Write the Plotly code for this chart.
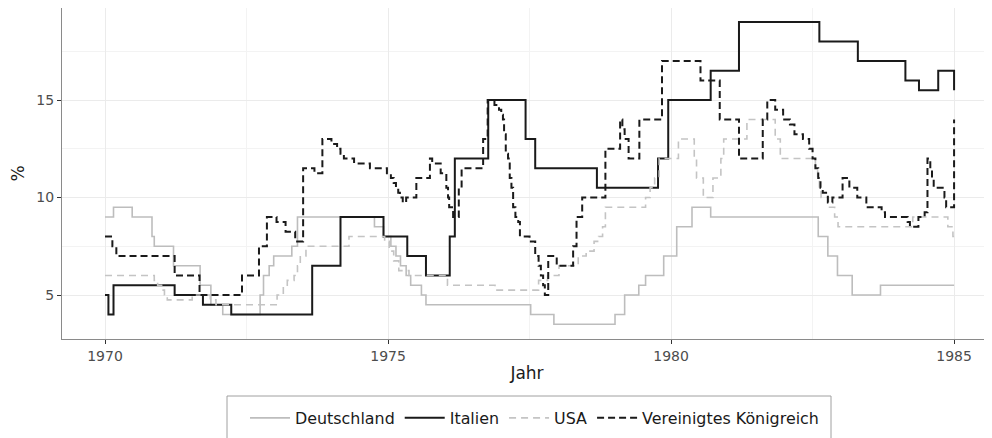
import plotly.graph_objects as go

# ---------------- data ----------------
de_years = [1970.0, 1970.15, 1970.48, 1970.83, 1970.87, 1971.21, 1971.68, 1971.87, 1972.08,
            1972.74, 1972.8, 1972.9, 1972.98, 1973.3, 1973.4, 1974.76, 1974.92, 1975.05,
            1975.14, 1975.22, 1975.32, 1975.4, 1975.59, 1975.67, 1977.52, 1977.93, 1979.01,
            1979.18, 1979.43, 1979.55, 1979.87, 1980.1, 1980.37, 1980.7, 1982.6, 1982.77,
            1982.94, 1983.2, 1983.7, 1985.0]
de_values = [9.0, 9.5, 9.0, 8.0, 7.5, 6.5, 5.5, 4.5, 4.0,
             5.0, 6.0, 6.5, 7.0, 7.5, 9.0, 8.5, 8.0, 7.5,
             7.0, 6.5, 6.0, 5.5, 5.0, 4.5, 4.0, 3.5, 4.0,
             5.0, 5.5, 6.0, 7.0, 8.5, 9.5, 9.0, 8.0, 7.0,
             6.0, 5.0, 5.5, 5.5]

it_years = [1970.0, 1970.06, 1970.15, 1971.23, 1971.73, 1972.23, 1973.66, 1974.16, 1974.92,
            1975.34, 1975.67, 1976.09, 1976.18, 1976.77, 1977.43, 1977.6, 1978.69, 1979.77,
            1979.95, 1980.7, 1981.2, 1982.62, 1983.3, 1984.14, 1984.38, 1984.72, 1985.0]
it_values = [5.0, 4.0, 5.5, 5.0, 4.5, 4.0, 6.5, 9.0, 8.0,
             7.0, 6.0, 8.0, 12.0, 15.0, 13.0, 11.5, 10.5, 12.0,
             15.0, 16.5, 19.0, 18.0, 17.0, 16.0, 15.5, 16.5, 15.5]

us_years = [1970.0, 1970.87, 1970.93, 1971.0, 1971.05, 1971.1, 1971.54, 1971.86, 1971.96,
            1973.04, 1973.15, 1973.22, 1973.34, 1973.4, 1973.45, 1973.55, 1974.31, 1974.94,
            1975.02, 1975.1, 1975.19, 1975.37, 1976.05, 1976.89, 1977.66, 1977.82, 1978.02,
            1978.36, 1978.5, 1978.64, 1978.72, 1978.79, 1978.84, 1979.55, 1979.63, 1979.71,
            1979.79, 1980.13, 1980.41, 1980.45, 1980.57, 1980.74, 1980.88, 1980.93, 1981.34,
            1981.84, 1981.93, 1982.55, 1982.59, 1982.62, 1982.65, 1982.78, 1982.89, 1982.95,
            1984.27, 1984.89, 1984.98, 1985.0]
us_values = [6.0, 5.75, 5.5, 5.25, 5.0, 4.75, 5.0, 4.75, 4.5,
             5.0, 5.5, 5.75, 6.0, 6.5, 7.0, 7.5, 8.0, 7.75,
             7.25, 6.75, 6.25, 6.0, 5.5, 5.25, 5.75, 6.0, 6.5,
             7.0, 7.25, 7.75, 8.0, 8.5, 9.5, 10.0, 10.5, 11.0,
             12.0, 13.0, 12.0, 11.0, 10.0, 11.0, 12.0, 13.0, 14.0,
             13.0, 12.0, 11.5, 11.0, 10.5, 10.0, 9.5, 9.0, 8.5,
             9.0, 8.5, 8.0, 8.0]

uk_years = [1970.0, 1970.13, 1970.2, 1971.23, 1971.67, 1972.42, 1972.72, 1972.86, 1973.03,
            1973.19, 1973.36, 1973.5, 1973.7, 1973.84, 1974.0, 1974.1, 1974.16, 1974.22,
            1974.4, 1974.68, 1974.98, 1975.05, 1975.1, 1975.14, 1975.18, 1975.21, 1975.26,
            1975.32, 1975.5, 1975.74, 1975.78, 1975.93, 1976.03, 1976.06, 1976.08, 1976.15,
            1976.25, 1976.3, 1976.68, 1976.76, 1976.88, 1976.96, 1977.0, 1977.03, 1977.05,
            1977.08, 1977.12, 1977.15, 1977.18, 1977.21, 1977.25, 1977.3, 1977.33, 1977.5,
            1977.6, 1977.66, 1977.7, 1977.74, 1977.77, 1977.83, 1977.98, 1978.27, 1978.33,
            1978.43, 1978.84, 1979.1, 1979.14, 1979.18, 1979.25, 1979.44, 1979.84, 1980.52,
            1980.86, 1981.2, 1981.62, 1981.7, 1981.84, 1981.98, 1982.1, 1982.18, 1982.33,
            1982.44, 1982.5, 1982.55, 1982.6, 1982.64, 1982.68, 1982.77, 1982.85, 1983.03,
            1983.15, 1983.29, 1983.45, 1983.72, 1983.78, 1984.18, 1984.22, 1984.37, 1984.48,
            1984.53, 1984.58, 1984.61, 1984.64, 1984.83, 1984.86, 1985.0]
uk_values = [8.0, 7.5, 7.0, 6.0, 5.0, 6.0, 7.5, 9.0, 8.75,
             8.25, 7.75, 11.5, 11.25, 13.0, 12.75, 12.5, 12.25, 12.0,
             11.75, 11.5, 11.25, 11.0, 10.75, 10.5, 10.25, 10.0, 9.75,
             10.0, 11.0, 12.0, 11.75, 11.25, 10.5, 10.0, 9.5, 9.0,
             10.5, 11.5, 13.0, 15.0, 14.75, 14.5, 14.25, 14.0, 13.25,
             12.25, 12.0, 11.0, 10.5, 9.5, 9.0, 8.75, 8.0, 7.75,
             7.0, 6.5, 6.0, 5.5, 5.0, 7.0, 6.5, 7.5, 9.0,
             10.0, 12.5, 14.0, 13.5, 13.0, 12.0, 14.0, 17.0, 16.0,
             14.0, 12.0, 14.0, 15.0, 14.5, 14.0, 13.75, 13.25, 13.0,
             12.5, 12.0, 11.5, 11.0, 10.5, 10.25, 9.75, 10.0, 11.0,
             10.5, 10.0, 9.5, 9.25, 9.0, 8.75, 8.5, 9.0, 9.25,
             12.0, 11.5, 11.0, 10.5, 10.0, 9.5, 14.0]

series_names = ["Deutschland", "Italien", "USA", "Vereinigtes Königreich"]
x_ticks = [1970, 1975, 1980, 1985]
x_minor = [1972.5, 1977.5, 1982.5]
y_ticks = [5, 10, 15]
y_minor = [7.5, 12.5, 17.5]

# ---------------- figure ----------------
FONT = "DejaVu Sans"
styles = [
    dict(color="#bdbdbd", width=1.6, dash="solid"),
    dict(color="#1a1a1a", width=2.0, dash="solid"),
    dict(color="#c4c4c4", width=1.6, dash="7px,5px"),
    dict(color="#1a1a1a", width=2.0, dash="7px,4px"),
]
data = [(de_years, de_values), (it_years, it_values), (us_years, us_values), (uk_years, uk_values)]

fig = go.Figure()
for name, (xs, ys), st in zip(series_names, data, styles):
    fig.add_trace(go.Scatter(x=xs, y=ys, mode="lines", name=name,
                             line=dict(shape="hv", **st)))

# the page body adds an 8px offset; work in page pixels and convert
OFF = 8
W, H = 992 - OFF, 438 - OFF
L, R, T, B = 62 - OFF, 0, 0, H - (339 - OFF)
pw, ph = W - L - R, H - T - B

def px_x(p):
    return (p - OFF - L) / pw

def px_y(p):
    return (H - B - (p - OFF)) / ph

fig.update_layout(
    width=W, height=H,
    margin=dict(l=L, r=R, t=T, b=B, autoexpand=False),
    paper_bgcolor="white", plot_bgcolor="white",
    font=dict(family=FONT, color="#1a1a1a"),
    showlegend=True,
    legend=dict(orientation="h", x=px_x(245), xanchor="left",
                y=px_y(401), yanchor="top",
                font=dict(family=FONT, size=15.9, color="#1a1a1a"),
                bgcolor="rgba(0,0,0,0)", borderwidth=0,
                itemwidth=40),
    shapes=[dict(type="rect", xref="paper", yref="paper",
                 x0=px_x(227), x1=px_x(831), y0=px_y(396), y1=px_y(450),
                 line=dict(color="#a0a0a0", width=1), fillcolor="rgba(0,0,0,0)",
                 layer="above")],
)

fig.update_xaxes(
    automargin=False,
    range=[1969.24, 1985.67], tickvals=x_ticks, ticktext=[str(v) for v in x_ticks],
    showgrid=True, gridcolor="#ebebeb", gridwidth=1,
    minor=dict(tickvals=x_minor, showgrid=True, gridcolor="#f3f3f3", gridwidth=0.6, ticks=""),
    ticks="outside", ticklen=4, tickcolor="#333333", tickwidth=1,
    tickfont=dict(family=FONT, size=14, color="#4d4d4d"),
    showline=True, linecolor="#8a8a8a", linewidth=1, mirror=True,
    zeroline=False,
    title=dict(text="Jahr", font=dict(family=FONT, size=17, color="#1a1a1a"), standoff=4),
)
fig.update_yaxes(
    automargin=False,
    range=[2.744, 19.718], tickvals=y_ticks, ticktext=[str(v) for v in y_ticks],
    showgrid=True, gridcolor="#ebebeb", gridwidth=1,
    minor=dict(tickvals=y_minor, showgrid=True, gridcolor="#f3f3f3", gridwidth=0.6, ticks=""),
    ticks="outside", ticklen=4, tickcolor="#333333", tickwidth=1,
    tickfont=dict(family=FONT, size=14, color="#4d4d4d"),
    showline=True, linecolor="#8a8a8a", linewidth=1, mirror=False,
    zeroline=False,
    title=dict(text="%", font=dict(family=FONT, size=17, color="#1a1a1a"), standoff=8),
)

fig.write_html("out.html")
